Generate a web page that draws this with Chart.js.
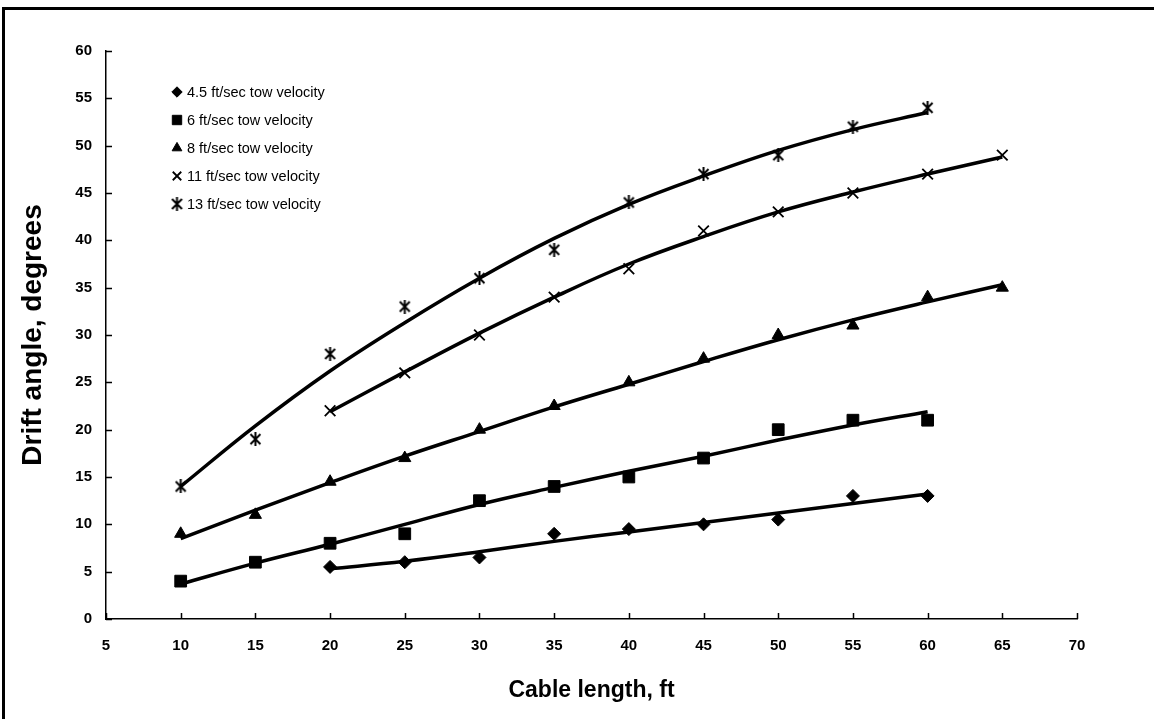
<!DOCTYPE html>
<html>
<head>
<meta charset="utf-8">
<script src="https://cdn.jsdelivr.net/npm/chart.js@4.4.0/dist/chart.umd.min.js"></script>
<style>
  body { margin: 0; background: #fff; }
  #frame { position: absolute; left: 2px; top: 7px; width: 1170px; height: 730px; border: 3px solid #000; box-sizing: border-box; }
  #wrap { position: absolute; left: 0; top: 0; width: 1154px; height: 719px; }
</style>
</head>
<body>
<div id="frame"></div>
<div id="wrap"><canvas id="chart"></canvas></div>
<script>
// tick labels
const xTicks = [5, 10, 15, 20, 25, 30, 35, 40, 45, 50, 55, 60, 65, 70];
const yTicks = [0, 5, 10, 15, 20, 25, 30, 35, 40, 45, 50, 55, 60];

// 4.5 ft/sec
const cable45 = [20, 25, 30, 35, 40, 45, 50, 55, 60];
const drift45 = [5.5, 6, 6.5, 9, 9.5, 10, 10.5, 13, 13];
const trend45 = [5.3, 6.1, 7.1, 8.2, 9.2, 10.2, 11.2, 12.2, 13.2];

// 6 ft/sec
const cable6 = [10, 15, 20, 25, 30, 35, 40, 45, 50, 55, 60];
const drift6 = [4, 6, 8, 9, 12.5, 14, 15, 17, 20, 21, 21];
const trend6 = [3.7, 5.9, 7.9, 10.0, 12.1, 13.9, 15.6, 17.2, 18.9, 20.5, 21.9];

// 8 ft/sec
const cable8 = [10, 15, 20, 25, 30, 35, 40, 45, 50, 55, 60, 65];
const drift8 = [9, 11, 14.5, 17, 20, 22.5, 25, 27.5, 30, 31, 34, 35];
const trend8 = [8.5, 11.5, 14.4, 17.2, 19.8, 22.4, 24.8, 27.2, 29.5, 31.6, 33.5, 35.3];

// 11 ft/sec
const cable11 = [20, 25, 30, 35, 40, 45, 50, 55, 60, 65];
const drift11 = [22, 26, 30, 34, 37, 41, 43, 45, 47, 49];
const trend11 = [21.9, 26.1, 30.2, 34, 37.5, 40.4, 43, 45.1, 47, 48.8];

// 13 ft/sec
const cable13 = [10, 15, 20, 25, 30, 35, 40, 45, 50, 55, 60];
const drift13 = [14, 19, 28, 33, 36, 39, 44, 47, 49, 52, 54];
const trend13 = [14, 20.4, 26.2, 31.3, 36, 40.2, 43.8, 46.8, 49.5, 51.7, 53.5];

const labels = [
    "4.5 ft/sec tow velocity",
    "6 ft/sec tow velocity",
    "8 ft/sec tow velocity",
    "11 ft/sec tow velocity",
    "13 ft/sec tow velocity"
];

// asterisk marker: X with a vertical bar
const star = document.createElement('canvas');
star.width = 13; star.height = 14;
(function() {
    const c = star.getContext('2d');
    c.strokeStyle = '#000';
    c.lineWidth = 2;
    c.beginPath();
    c.moveTo(1.5, 2); c.lineTo(11.5, 12);
    c.moveTo(11.5, 2); c.lineTo(1.5, 12);
    c.moveTo(6.5, 0); c.lineTo(6.5, 14);
    c.stroke();
})();

const markers = [
    { style: 'rectRot', radius: 6.5, width: 1 },
    { style: 'rect', radius: 8.3, width: 1 },
    { style: 'triangle', radius: 7, width: 1 },
    { style: 'crossRot', radius: 7.5, width: 1.8 },
    { style: star, radius: 7, width: 1 }
];

const toPts = (xs, ys) => xs.map((x, i) => ({ x: x, y: ys[i] }));

const pointSets = [
    toPts(cable45, drift45),
    toPts(cable6, drift6),
    toPts(cable8, drift8),
    toPts(cable11, drift11),
    toPts(cable13, drift13)
];
const trendSets = [
    toPts(cable45, trend45),
    toPts(cable6, trend6),
    toPts(cable8, trend8),
    toPts(cable11, trend11),
    toPts(cable13, trend13)
];

const datasets = [];
trendSets.forEach((pts) => {
    datasets.push({
        data: pts,
        showLine: true,
        borderColor: '#000',
        borderWidth: 3.5,
        pointRadius: 0,
        tension: 0.4
    });
});
pointSets.forEach((pts, i) => {
    datasets.push({
        label: labels[i],
        data: pts,
        showLine: false,
        pointStyle: markers[i].style,
        pointRadius: markers[i].radius,
        pointBackgroundColor: '#000',
        pointBorderColor: '#000',
        pointBorderWidth: markers[i].width
    });
});

// ticks drawn inward from the axis lines
const innerTicks = {
    id: 'innerTicks',
    afterDraw(chart) {
        const { ctx, chartArea, scales } = chart;
        ctx.save();
        ctx.strokeStyle = '#000';
        ctx.lineWidth = 1.5;
        ctx.beginPath();
        scales.x.ticks.forEach(t => {
            const px = Math.round(scales.x.getPixelForValue(t.value)) + 0.5;
            ctx.moveTo(px, chartArea.bottom);
            ctx.lineTo(px, chartArea.bottom - 6);
        });
        scales.y.ticks.forEach(t => {
            const py = Math.round(scales.y.getPixelForValue(t.value)) + 0.5;
            ctx.moveTo(chartArea.left, py);
            ctx.lineTo(chartArea.left + 6, py);
        });
        ctx.stroke();
        ctx.restore();
    }
};

// legend block in the upper left of the plot
const boxLegend = {
    id: 'boxLegend',
    afterDraw(chart) {
        const { ctx, chartArea } = chart;
        ctx.save();
        ctx.fillStyle = '#000';
        ctx.strokeStyle = '#000';
        ctx.font = "14.5px 'Liberation Sans', Arial, sans-serif";
        ctx.textBaseline = 'middle';
        labels.forEach((txt, i) => {
            const y = chartArea.top + 41 + i * 28;
            const x = chartArea.left + 71;
            ctx.lineWidth = markers[i].width;
            Chart.helpers.drawPoint(ctx, {
                pointStyle: markers[i].style,
                radius: markers[i].radius * 0.8,
                borderWidth: markers[i].width,
                rotation: 0
            }, x, y);
            ctx.fillText(txt, x + 10, y + 1);
        });
        ctx.restore();
    }
};

Chart.defaults.font.family = "'Liberation Sans', Arial, sans-serif";
Chart.defaults.color = '#000';

new Chart(document.getElementById('chart'), {
    type: 'scatter',
    data: { datasets },
    options: {
        responsive: true,
        maintainAspectRatio: false,
        animation: false,
        layout: { padding: { left: 0, top: 51, right: 77, bottom: 0 } },
        plugins: {
            legend: { display: false },
            tooltip: { enabled: false }
        },
        scales: {
            x: {
                type: 'linear',
                min: 5,
                max: 70,
                afterBuildTicks: s => { s.ticks = xTicks.map(v => ({ value: v })); },
                afterFit: s => { s.height = 100; },
                grid: { drawOnChartArea: false, drawTicks: false },
                border: { display: true, color: '#000', width: 1.5 },
                ticks: { padding: 18, font: { size: 15, weight: 'bold' }, maxRotation: 0 },
                title: {
                    display: true,
                    text: 'Cable length, ft',
                    font: { size: 23, weight: 'bold' },
                    padding: { top: 0, bottom: 15 }
                }
            },
            y: {
                type: 'linear',
                min: 0,
                max: 60,
                afterBuildTicks: s => { s.ticks = yTicks.map(v => ({ value: v })); },
                afterFit: s => { s.width = 106; },
                grid: { drawOnChartArea: false, drawTicks: false },
                border: { display: true, color: '#000', width: 1.5 },
                ticks: { padding: 14, font: { size: 15, weight: 'bold' } },
                title: {
                    display: true,
                    text: 'Drift angle, degrees',
                    font: { size: 28, weight: 'bold' },
                    padding: { top: 16, bottom: 0 }
                }
            }
        }
    },
    plugins: [innerTicks, boxLegend]
});
</script>
</body>
</html>
